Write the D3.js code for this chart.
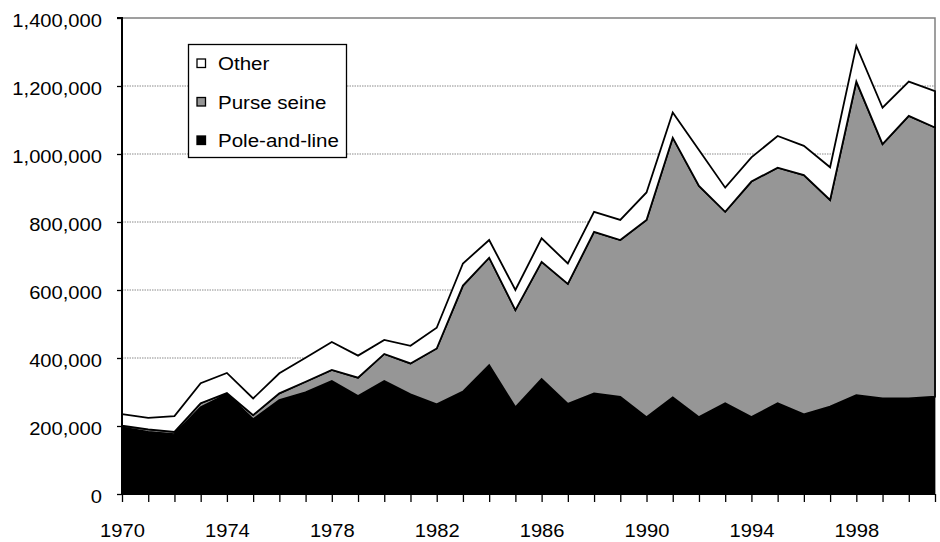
<!DOCTYPE html>
<html>
<head>
<meta charset="utf-8">
<script src="https://cdn.jsdelivr.net/npm/d3@7/dist/d3.min.js"></script>
<style>
  html, body { margin: 0; padding: 0; background: #fff; }
  svg { display: block; }
  text { font-family: "Liberation Sans", Arial, Helvetica, sans-serif; fill: #000; }
</style>
</head>
<body>
<svg id="chart" width="940" height="542"></svg>
<script>
// ---- data (tonnes) ----
const years = [1970,1971,1972,1973,1974,1975,1976,1977,1978,1979,1980,1981,1982,1983,1984,1985,
               1986,1987,1988,1989,1990,1991,1992,1993,1994,1995,1996,1997,1998,1999,2000,2001];
const poleAndLine = [196000,183000,176000,255000,294000,220000,276000,299000,332000,288000,332000,293000,
                     264000,301000,379000,255000,338000,265000,296000,286000,226000,284000,226000,267000,
                     226000,267000,234000,257000,291000,281000,281000,286000];
const purseSeine = [5000,7000,7000,12000,3000,12000,20000,31000,33000,54000,80000,91000,
                    164000,312000,316000,286000,345000,353000,475000,461000,580000,764000,680000,563000,
                    693000,693000,704000,608000,922000,748000,831000,792000];
const other = [34000,34000,46000,59000,59000,49000,59000,71000,82000,65000,41000,52000,
               61000,65000,52000,59000,69000,60000,59000,59000,81000,74000,106000,71000,
               71000,93000,86000,96000,105000,107000,101000,107000];
const seriesNames = ["Pole-and-line", "Purse seine", "Other"];
const legendOrder = ["Other", "Purse seine", "Pole-and-line"];
const yTickValues = [0,200000,400000,600000,800000,1000000,1200000,1400000];
const xTickLabels = [1970,1974,1978,1982,1986,1990,1994,1998];

// ---- layout ----
const svg = d3.select("#chart");
const mLeft = 122, mRight = 935, mTop = 18, mBottom = 494;
const fills = {"Pole-and-line": "#000000", "Purse seine": "#969696", "Other": "#ffffff"};
const stretch = 1.12;   // text in the reference is slightly wide

const x = d3.scaleLinear().domain([years[0], years[years.length - 1]]).range([mLeft, mRight]);
const y = d3.scaleLinear().domain([0, 1400000]).range([mBottom, mTop]);

const table = years.map((yr, i) => ({
  year: yr,
  "Pole-and-line": poleAndLine[i],
  "Purse seine": purseSeine[i],
  "Other": other[i]
}));
const stacked = d3.stack().keys(seriesNames)(table);

// gridlines
svg.append("g").selectAll("line")
  .data(yTickValues.filter(v => v > 0 && v < 1400000))
  .join("line")
  .attr("x1", mLeft).attr("x2", mRight)
  .attr("y1", d => y(d)).attr("y2", d => y(d))
  .attr("stroke", "#8a8a8a").attr("stroke-width", 1)
  .attr("stroke-dasharray", "1.5,1");

// plot area border (top & right)
svg.append("path")
  .attr("d", `M${mLeft},${mTop}H${mRight}V${mBottom}`)
  .attr("fill", "none").attr("stroke", "#808080").attr("stroke-width", 1.5);

// areas
const area = d3.area()
  .x((d, i) => x(years[i]))
  .y0(d => y(d[0]))
  .y1(d => y(d[1]));

svg.append("g").selectAll("path")
  .data(stacked)
  .join("path")
  .attr("d", d => area(d) + "Z")
  .attr("fill", d => fills[d.key])
  .attr("stroke", d => d.key === "Pole-and-line" ? "none" : "#000")
  .attr("stroke-width", 1.8)
  .attr("stroke-linejoin", "miter");

function widen(sel, s) {
  sel.each(function () {
    const t = d3.select(this);
    const tx = +t.attr("x") || 0;
    t.attr("x", tx / s).attr("transform", `scale(${s},1)`);
  });
}

// y axis
const yAxis = d3.axisLeft(y)
  .tickValues(yTickValues)
  .tickSize(5)
  .tickPadding(15)
  .tickFormat(d3.format(","));
const gy = svg.append("g").attr("transform", `translate(${mLeft},0)`).call(yAxis);
gy.select(".domain").attr("stroke", "#000").attr("stroke-width", 2).attr("d", `M-5,${mTop}H0V${mBottom}`);
gy.selectAll(".tick line").attr("stroke", "#000").attr("stroke-width", 1.3);
gy.selectAll(".tick text").attr("font-size", 18).attr("fill", "#000").attr("dy", "0.47em")
  .style("font-family", '"Liberation Sans", Arial, sans-serif')
  .call(widen, stretch);

// x axis
const xAxis = d3.axisBottom(x)
  .tickValues(years)
  .tickSize(8)
  .tickPadding(22)
  .tickFormat(d => xTickLabels.includes(d) ? String(d) : "");
const gx = svg.append("g").attr("transform", `translate(0,${mBottom})`).call(xAxis);
gx.select(".domain").attr("stroke", "#000").attr("stroke-width", 2).attr("d", `M${mLeft},0H${mRight}`);
gx.selectAll(".tick line").attr("stroke", "#000").attr("stroke-width", 1.3);
gx.selectAll(".tick text").attr("font-size", 18).attr("fill", "#000")
  .style("font-family", '"Liberation Sans", Arial, sans-serif')
  .call(widen, stretch);

// legend
const lg = svg.append("g");
lg.append("rect")
  .attr("x", 188.5).attr("y", 44.5).attr("width", 158).attr("height", 113)
  .attr("fill", "#fff").attr("stroke", "#000").attr("stroke-width", 1.3);
const rows = lg.selectAll("g.row").data(legendOrder).join("g")
  .attr("class", "row")
  .attr("transform", (d, i) => `translate(0,${63.5 + i * 38.5})`);
rows.append("rect")
  .attr("x", 197).attr("y", -4.5).attr("width", 8.5).attr("height", 8.5)
  .attr("fill", d => fills[d]).attr("stroke", "#000").attr("stroke-width", 1.3);
rows.append("text")
  .attr("x", 218 / 1.11).attr("y", 6.5)
  .attr("transform", "scale(1.11,1)")
  .attr("font-size", 18.5)
  .text(d => d);
</script>
</body>
</html>
